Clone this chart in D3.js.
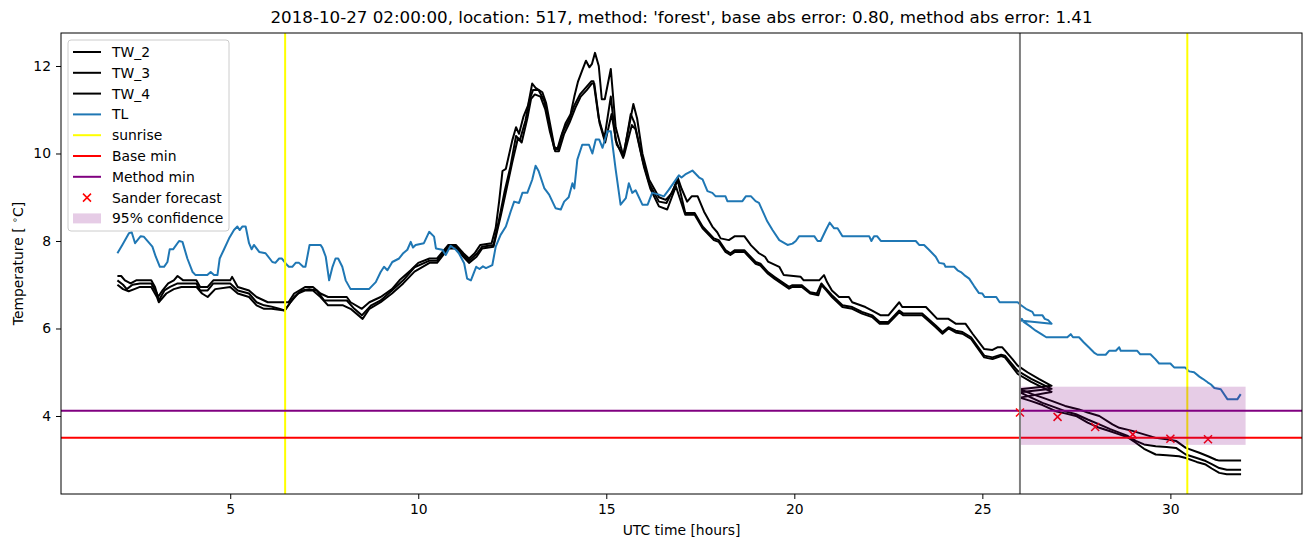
<!DOCTYPE html>
<html>
<head>
<meta charset="utf-8">
<script src="https://cdn.jsdelivr.net/npm/d3@7"></script>
<style>
  body { margin: 0; background: #fff; }
  text { font-family: "DejaVu Sans", sans-serif; }
</style>
</head>
<body>
<div id="chart"></div>
<script>
// --- DATA (hours, °C) ---
const tlObs = [[2.0,7.72],[2.13,7.91],[2.31,8.18],[2.38,8.2],[2.47,7.95],[2.62,8.11],[2.7,8.1],[2.93,7.87],[3.02,7.64],[3.13,7.41],[3.24,7.41],[3.33,7.52],[3.39,7.81],[3.48,7.81],[3.64,8.0],[3.73,7.98],[3.86,7.6],[4.0,7.29],[4.08,7.22],[4.39,7.22],[4.48,7.29],[4.57,7.22],[4.66,7.22],[4.72,7.6],[4.83,7.8],[4.97,8.06],[5.1,8.25],[5.19,8.33],[5.25,8.25],[5.32,8.33],[5.41,8.33],[5.5,7.95],[5.57,7.81],[5.63,7.91],[5.77,7.75],[5.94,7.72],[6.12,7.52],[6.2,7.5],[6.3,7.6],[6.37,7.6],[6.48,7.48],[6.56,7.41],[6.65,7.41],[6.74,7.5],[6.83,7.5],[6.94,7.41],[7.0,7.41],[7.11,7.91],[7.4,7.91],[7.45,7.85],[7.54,7.64],[7.63,7.1],[7.72,7.41],[7.8,7.6],[7.87,7.6],[7.98,7.41],[8.07,7.1],[8.2,6.9],[8.69,6.9],[8.87,7.06],[9.0,7.29],[9.09,7.41],[9.18,7.33],[9.31,7.52],[9.49,7.6],[9.6,7.72],[9.71,7.8],[9.8,7.98],[9.86,7.85],[9.93,7.91],[10.15,7.95],[10.29,8.21],[10.42,8.1],[10.47,7.83],[10.64,7.8],[10.73,7.68],[10.86,7.89],[11.0,7.8],[11.08,7.72],[11.22,7.49],[11.3,7.14],[11.4,7.1],[11.54,7.41],[11.63,7.36],[11.72,7.42],[11.8,7.38],[11.97,7.45],[12.06,7.87],[12.19,8.14],[12.33,8.33],[12.46,8.68],[12.55,8.9],[12.68,8.87],[12.77,9.1],[12.9,9.1],[13.03,9.4],[13.12,9.72],[13.2,9.6],[13.35,9.21],[13.48,9.06],[13.65,8.75],[13.79,8.72],[13.88,8.9],[14.0,9.0],[14.1,9.32],[14.15,9.2],[14.23,9.86],[14.36,10.2],[14.54,10.2],[14.63,10.0],[14.72,10.32],[14.81,10.32],[14.9,10.13],[15.03,10.51],[15.12,10.51],[15.25,9.63],[15.38,8.83],[15.52,8.98],[15.6,9.32],[15.69,9.1],[15.78,9.16],[15.96,8.83],[16.1,8.83],[16.22,9.1],[16.4,9.06],[16.53,9.02],[16.66,9.17],[16.93,9.5],[17.0,9.45],[17.1,9.52],[17.29,9.61],[17.47,9.45],[17.56,9.41],[17.69,9.14],[17.82,9.1],[17.91,9.02],[18.17,9.02],[18.22,8.91],[18.62,8.91],[18.71,9.02],[18.85,9.02],[18.97,8.91],[19.06,8.87],[19.28,8.45],[19.42,8.25],[19.6,8.02],[19.82,7.91],[19.95,7.94],[20.04,8.0],[20.13,8.11],[20.53,8.11],[20.62,8.0],[20.7,8.0],[20.84,8.25],[20.94,8.42],[21.06,8.29],[21.15,8.29],[21.28,8.11],[21.99,8.11],[22.05,8.0],[22.12,8.11],[22.2,8.11],[22.3,8.0],[23.23,8.0],[23.32,7.91],[23.45,7.91],[23.58,7.8],[23.76,7.64],[23.85,7.5],[23.98,7.48],[24.02,7.41],[24.25,7.41],[24.34,7.33],[24.43,7.29],[24.52,7.22],[24.65,7.14],[24.78,6.97],[24.91,6.81],[25.0,6.8],[25.06,6.72],[25.37,6.72],[25.46,6.6],[25.94,6.6],[26.03,6.53],[26.16,6.45],[26.33,6.38],[26.38,6.3],[26.6,6.3],[26.66,6.22],[26.75,6.19],[26.84,6.11]];
const tlFc = [[26.0,6.18],[26.05,6.22],[26.1,6.15],[26.3,6.03],[26.42,5.95],[26.57,5.87],[26.7,5.8],[27.26,5.8],[27.35,5.87],[27.41,5.8],[27.57,5.8],[27.7,5.68],[27.83,5.57],[27.97,5.45],[28.06,5.4],[28.28,5.4],[28.37,5.49],[28.55,5.49],[28.64,5.57],[28.68,5.49],[29.12,5.49],[29.2,5.41],[29.47,5.41],[29.6,5.3],[29.7,5.2],[30.0,5.2],[30.1,5.11],[30.39,5.11],[30.5,5.02],[30.63,5.0],[30.77,4.9],[30.86,4.85],[30.99,4.77],[31.08,4.72],[31.17,4.64],[31.34,4.61],[31.52,4.38],[31.78,4.38],[31.87,4.5]];

const tw2Obs = [[2.0,7.2],[2.1,7.2],[2.2,7.1],[2.35,7.03],[2.5,7.1],[2.9,7.1],[3.0,6.95],[3.08,6.72],[3.2,6.87],[3.35,7.03],[3.5,7.1],[3.6,7.2],[3.75,7.1],[4.1,7.1],[4.2,6.95],[4.4,6.95],[4.55,7.1],[5.0,7.1],[5.05,7.18],[5.2,6.95],[5.5,6.87],[5.7,6.72],[5.9,6.64],[6.0,6.6],[6.55,6.6],[6.7,6.8],[7.0,6.95],[7.2,6.95],[7.4,6.8],[7.6,6.72],[8.1,6.72],[8.2,6.6],[8.5,6.45],[8.7,6.6],[9.0,6.72],[9.3,6.9],[9.5,7.1],[9.8,7.33],[10.0,7.5],[10.3,7.6],[10.5,7.6],[10.8,7.91],[11.0,7.91],[11.2,7.72],[11.35,7.6],[11.5,7.72],[11.65,7.91],[11.95,7.95],[12.06,8.3],[12.15,8.9],[12.24,9.6],[12.33,9.65],[12.5,10.3],[12.6,10.6],[12.68,10.45],[12.8,10.85],[12.92,11.1],[13.03,11.6],[13.12,11.5],[13.3,11.4],[13.4,11.15],[13.5,10.7],[13.62,10.15],[13.7,10.1],[13.8,10.4],[13.92,10.7],[14.05,10.9],[14.15,11.3],[14.25,11.65],[14.36,11.9],[14.46,12.12],[14.55,11.97],[14.62,12.05],[14.7,12.3],[14.8,12.0],[14.88,11.24],[14.96,11.24],[15.12,11.93],[15.25,10.6],[15.45,9.95],[15.6,10.6],[15.72,11.13],[15.82,10.8],[15.96,10.0],[16.14,9.4],[16.4,9.0],[16.58,8.94],[16.75,9.1],[16.9,9.45],[17.0,9.2],[17.15,8.9],[17.27,9.02],[17.43,9.02],[17.6,8.67],[17.82,8.33],[17.95,8.2],[18.04,8.06],[18.26,8.02],[18.42,8.11],[18.67,8.11],[18.85,7.9],[19.06,7.72],[19.22,7.64],[19.3,7.53],[19.6,7.41],[19.72,7.22],[20.17,7.18],[20.25,7.1],[20.66,7.1],[20.79,7.22],[20.87,7.06],[21.0,6.87],[21.19,6.72],[21.45,6.72],[21.54,6.6],[21.89,6.49],[22.07,6.41],[22.3,6.3],[22.5,6.3],[22.79,6.6],[22.87,6.49],[23.5,6.49],[23.8,6.22],[24.1,6.22],[24.29,6.11],[24.55,6.11],[24.74,5.88],[25.05,5.53],[25.27,5.51],[25.4,5.57],[25.53,5.57],[25.8,5.3],[25.94,5.15],[26.2,5.0],[26.5,4.85],[26.84,4.69]];
const tw2Fc = [[26.0,4.61],[26.33,4.5],[26.6,4.42],[26.86,4.34],[27.2,4.23],[27.57,4.15],[27.8,4.08],[28.11,4.0],[28.46,3.81],[28.64,3.73],[28.99,3.66],[29.3,3.58],[29.61,3.5],[29.9,3.47],[30.15,3.43],[30.41,3.27],[30.77,3.16],[31.0,3.08],[31.21,3.0],[31.3,2.98],[31.88,2.98]];

const tw3Obs = [[2.0,7.1],[2.15,7.0],[2.25,6.9],[2.4,7.0],[2.6,7.03],[2.9,7.03],[3.05,6.8],[3.1,6.64],[3.25,6.87],[3.4,6.95],[3.6,7.03],[4.1,7.03],[4.2,6.87],[4.4,6.87],[4.55,7.03],[5.0,7.03],[5.2,6.87],[5.5,6.8],[5.7,6.6],[5.9,6.53],[6.1,6.5],[6.3,6.45],[6.45,6.41],[6.7,6.72],[6.9,6.87],[7.1,6.9],[7.3,6.87],[7.5,6.64],[8.1,6.64],[8.3,6.45],[8.5,6.3],[8.75,6.53],[9.0,6.64],[9.3,6.87],[9.6,7.1],[9.9,7.4],[10.3,7.55],[10.5,7.55],[10.8,7.87],[11.0,7.87],[11.2,7.68],[11.35,7.55],[11.55,7.7],[11.7,7.87],[12.0,7.91],[12.15,8.5],[12.3,9.15],[12.45,9.7],[12.6,10.4],[12.7,10.3],[12.85,10.75],[12.95,11.2],[13.05,11.45],[13.2,11.45],[13.35,11.2],[13.5,10.6],[13.62,10.1],[13.72,10.1],[13.85,10.5],[14.0,10.75],[14.15,11.1],[14.3,11.35],[14.45,11.5],[14.6,11.65],[14.66,11.65],[14.8,10.8],[14.95,10.35],[15.12,11.3],[15.25,10.3],[15.45,9.9],[15.65,10.9],[15.75,10.7],[15.98,9.8],[16.15,9.3],[16.4,8.9],[16.6,8.87],[16.9,9.38],[17.1,8.64],[17.35,8.64],[17.56,8.33],[17.86,8.06],[17.99,8.02],[18.17,7.79],[18.3,7.72],[18.42,7.79],[18.67,7.79],[18.97,7.52],[19.1,7.48],[19.3,7.29],[19.47,7.18],[19.86,6.95],[19.95,6.99],[20.2,6.99],[20.42,6.83],[20.6,6.8],[20.72,7.03],[20.8,6.95],[21.0,6.76],[21.28,6.53],[21.54,6.49],[21.8,6.38],[22.07,6.3],[22.27,6.15],[22.5,6.15],[22.79,6.41],[22.9,6.34],[23.4,6.34],[23.76,6.07],[23.94,5.92],[24.1,6.03],[24.29,5.95],[24.47,5.92],[24.7,5.8],[25.05,5.38],[25.27,5.34],[25.5,5.4],[25.6,5.38],[25.94,5.03],[26.3,4.85],[26.84,4.62]];
const tw3Fc = [[26.0,4.54],[26.3,4.42],[26.6,4.3],[26.95,4.19],[27.2,4.11],[27.49,4.04],[27.8,3.92],[28.11,3.81],[28.4,3.7],[28.64,3.62],[28.85,3.55],[29.08,3.43],[29.3,3.35],[29.61,3.31],[29.9,3.29],[30.15,3.27],[30.41,3.12],[30.7,3.04],[30.94,2.97],[31.1,2.9],[31.3,2.81],[31.5,2.77],[31.88,2.77]];

const tw4Obs = [[2.0,7.0],[2.15,6.9],[2.3,6.85],[2.45,6.9],[2.6,6.95],[2.9,6.95],[3.05,6.72],[3.1,6.6],[3.3,6.8],[3.5,6.9],[3.7,6.95],[4.1,6.95],[4.25,6.8],[4.4,6.72],[4.6,6.9],[5.0,6.95],[5.2,6.8],[5.5,6.72],[5.7,6.53],[5.9,6.45],[6.1,6.45],[6.45,6.41],[6.6,6.6],[6.8,6.8],[7.0,6.87],[7.2,6.87],[7.4,6.72],[7.6,6.53],[8.0,6.53],[8.2,6.45],[8.52,6.22],[8.7,6.45],[9.0,6.6],[9.3,6.8],[9.6,7.03],[9.9,7.3],[10.3,7.5],[10.5,7.5],[10.8,7.83],[11.0,7.83],[11.2,7.64],[11.35,7.5],[11.55,7.64],[11.7,7.83],[12.0,7.87],[12.2,8.6],[12.35,9.2],[12.5,9.8],[12.65,10.35],[12.75,10.25],[12.9,10.8],[13.0,11.25],[13.1,11.35],[13.25,11.3],[13.38,11.0],[13.5,10.5],[13.64,10.05],[13.74,10.05],[13.88,10.45],[14.02,10.7],[14.18,11.05],[14.32,11.3],[14.48,11.45],[14.62,11.6],[14.68,11.6],[14.82,10.7],[14.97,10.25],[15.14,10.9],[15.28,10.2],[15.47,9.95],[15.68,10.65],[15.78,10.55],[16.0,9.7],[16.17,9.2],[16.4,8.79],[16.62,8.72],[16.85,9.25],[17.1,8.6],[17.35,8.6],[17.56,8.29],[17.86,8.02],[17.99,7.98],[18.17,7.75],[18.3,7.68],[18.42,7.75],[18.67,7.75],[18.97,7.48],[19.1,7.44],[19.3,7.25],[19.47,7.14],[19.86,6.91],[19.95,6.95],[20.2,6.95],[20.42,6.8],[20.64,6.76],[20.72,6.99],[20.85,6.87],[21.0,6.72],[21.28,6.49],[21.54,6.45],[21.8,6.34],[22.07,6.26],[22.27,6.11],[22.5,6.11],[22.79,6.37],[22.9,6.3],[23.4,6.3],[23.76,6.03],[23.94,5.88],[24.1,6.0],[24.29,5.91],[24.47,5.88],[24.7,5.76],[25.05,5.34],[25.27,5.3],[25.5,5.37],[25.6,5.34],[25.94,4.96],[26.3,4.78],[26.84,4.55]];
const tw4Fc = [[26.0,4.42],[26.3,4.34],[26.6,4.25],[26.95,4.11],[27.2,4.06],[27.49,4.0],[27.8,3.85],[28.11,3.73],[28.4,3.65],[28.64,3.58],[28.85,3.52],[29.08,3.39],[29.3,3.25],[29.61,3.12],[29.9,3.1],[30.23,3.08],[30.41,3.04],[30.7,2.95],[30.94,2.89],[31.1,2.8],[31.3,2.7],[31.5,2.67],[31.88,2.67]];

const forecastHours = [26, 27, 28, 29, 30, 31];
const forecastValues = [4.08, 3.98, 3.75, 3.58, 3.48, 3.47];
const sunriseHours = [6.46, 30.45];
const forecastStart = 26;
const baseMin = 3.50;
const methodMin = 4.12;
const confidence = { from: 26, to: 32, low: 3.34, high: 4.67 };

const xTicks = [5, 10, 15, 20, 25, 30];
const yTicks = [4, 6, 8, 10, 12];
const title = "2018-10-27 02:00:00, location: 517, method: 'forest', base abs error: 0.80, method abs error: 1.41";

// --- SVG setup ---
const width = 1310, height = 547;
const margin = { top: 33, bottom: 53, left: 61, right: 8 };

const svg = d3.select("#chart")
  .append("svg")
  .attr("width", width)
  .attr("height", height);

// --- SCALES ---
const x = d3.scaleLinear().domain([0.5, 33.5]).range([margin.left, width - margin.right]);
const y = d3.scaleLinear().domain([2.217, 12.754]).range([height - margin.bottom, margin.top]);

svg.append("clipPath").attr("id", "plot")
  .append("rect")
  .attr("x", margin.left).attr("y", margin.top)
  .attr("width", width - margin.left - margin.right)
  .attr("height", height - margin.top - margin.bottom);

const plot = svg.append("g").attr("clip-path", "url(#plot)");

const line = d3.line().x(d => x(d[0])).y(d => y(d[1]));

// --- SERIES ---
const series = [
  { name: "TW_2", data: tw2Obs.concat(tw2Fc), color: "#000000" },
  { name: "TW_3", data: tw3Obs.concat(tw3Fc), color: "#000000" },
  { name: "TW_4", data: tw4Obs.concat(tw4Fc), color: "#000000" },
  { name: "TL", data: tlObs.concat(tlFc), color: "#1f77b4" }
];

series.forEach(s => {
  plot.append("path")
    .attr("d", line(s.data))
    .attr("fill", "none")
    .attr("stroke", s.color)
    .attr("stroke-width", 2)
    .attr("stroke-linejoin", "round");
});

sunriseHours.forEach(h => {
  plot.append("line")
    .attr("x1", x(h)).attr("x2", x(h))
    .attr("y1", margin.top).attr("y2", height - margin.bottom)
    .attr("stroke", "yellow").attr("stroke-width", 2);
});

plot.append("line")
  .attr("x1", margin.left).attr("x2", width - margin.right)
  .attr("y1", y(baseMin)).attr("y2", y(baseMin))
  .attr("stroke", "red").attr("stroke-width", 2);

plot.append("line")
  .attr("x1", margin.left).attr("x2", width - margin.right)
  .attr("y1", y(methodMin)).attr("y2", y(methodMin))
  .attr("stroke", "purple").attr("stroke-width", 2);

// forecast crosses
forecastHours.forEach((h, i) => {
  const cx = x(h), cy = y(forecastValues[i]), r = 4;
  plot.append("path")
    .attr("d", `M${cx - r},${cy - r}L${cx + r},${cy + r}M${cx - r},${cy + r}L${cx + r},${cy - r}`)
    .attr("stroke", "red").attr("stroke-width", 1.5);
});

plot.append("rect")
  .attr("x", x(confidence.from))
  .attr("y", y(confidence.high))
  .attr("width", x(confidence.to) - x(confidence.from))
  .attr("height", y(confidence.low) - y(confidence.high))
  .attr("fill", "purple").attr("fill-opacity", 0.2);

plot.append("line")
  .attr("x1", x(forecastStart)).attr("x2", x(forecastStart))
  .attr("y1", margin.top).attr("y2", height - margin.bottom)
  .attr("stroke", "gray").attr("stroke-width", 2);

// --- AXES ---
const xAxis = svg.append("g")
  .attr("transform", `translate(0,${height - margin.bottom})`)
  .call(d3.axisBottom(x).tickValues(xTicks).tickSize(5).tickPadding(5));
const yAxis = svg.append("g")
  .attr("transform", `translate(${margin.left},0)`)
  .call(d3.axisLeft(y).tickValues(yTicks).tickSize(5).tickPadding(5));

[xAxis, yAxis].forEach(a => {
  a.select(".domain").remove();
  a.selectAll("text").style("font-size", "13.9px").style("font-family", "DejaVu Sans").attr("fill", "#000");
  a.selectAll("line").attr("stroke", "#000");
});

svg.append("rect")
  .attr("x", margin.left).attr("y", margin.top)
  .attr("width", width - margin.left - margin.right)
  .attr("height", height - margin.top - margin.bottom)
  .attr("fill", "none").attr("stroke", "#000").attr("stroke-width", 1);

// --- TITLE & LABELS ---
svg.append("text")
  .attr("x", (margin.left + width - margin.right) / 2)
  .attr("y", 23)
  .attr("text-anchor", "middle")
  .style("font-size", "16.7px")
  .text(title);

svg.append("text")
  .attr("x", (margin.left + width - margin.right) / 2)
  .attr("y", 535)
  .attr("text-anchor", "middle")
  .style("font-size", "13.9px")
  .text("UTC time [hours]");

const ylab = svg.append("text")
  .attr("transform", `translate(23,${(margin.top + height - margin.bottom) / 2}) rotate(-90)`)
  .attr("text-anchor", "middle")
  .style("font-size", "13.9px");
ylab.append("tspan").text("Temperature [ ");
ylab.append("tspan").attr("dy", -5).style("font-size", "9.7px").text("∘");
ylab.append("tspan").attr("dy", 5).text("C]");

// --- LEGEND ---
const legend = svg.append("g").attr("transform", "translate(68,40)");
legend.append("rect")
  .attr("width", 161).attr("height", 191).attr("rx", 3)
  .attr("fill", "#fff").attr("fill-opacity", 0.8)
  .attr("stroke", "#cccccc");

const entries = [
  { label: "TW_2", type: "line", color: "#000000" },
  { label: "TW_3", type: "line", color: "#000000" },
  { label: "TW_4", type: "line", color: "#000000" },
  { label: "TL", type: "line", color: "#1f77b4" },
  { label: "sunrise", type: "line", color: "yellow" },
  { label: "Base min", type: "line", color: "red" },
  { label: "Method min", type: "line", color: "purple" },
  { label: "Sander forecast", type: "marker", color: "red" },
  { label: "95% confidence", type: "patch", color: "purple" }
];

entries.forEach((e, i) => {
  const cy = 12 + i * 20.8;
  if (e.type === "line") {
    legend.append("line")
      .attr("x1", 5).attr("x2", 33).attr("y1", cy).attr("y2", cy)
      .attr("stroke", e.color).attr("stroke-width", 2);
  } else if (e.type === "marker") {
    const r = 4;
    legend.append("path")
      .attr("d", `M${19 - r},${cy - r}L${19 + r},${cy + r}M${19 - r},${cy + r}L${19 + r},${cy - r}`)
      .attr("stroke", e.color).attr("stroke-width", 1.5);
  } else {
    legend.append("rect")
      .attr("x", 5).attr("y", cy - 5).attr("width", 28).attr("height", 10)
      .attr("fill", e.color).attr("fill-opacity", 0.2);
  }
  legend.append("text")
    .attr("x", 44).attr("y", cy + 5)
    .style("font-size", "13.9px")
    .text(e.label);
});
</script>
</body>
</html>
